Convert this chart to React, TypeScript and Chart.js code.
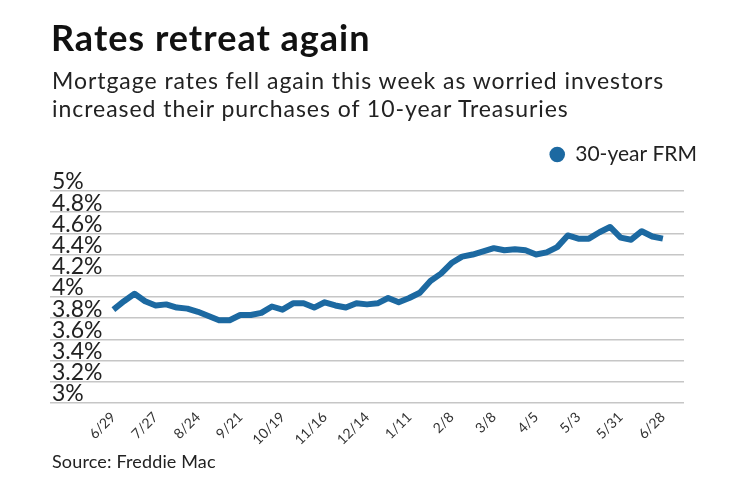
import React, { useEffect, useRef } from 'react';
import { Chart, registerables } from 'chart.js';

Chart.register(...registerables);

// Weekly Freddie Mac 30-year fixed mortgage rate (%)
const weekLabels = [
  '6/29', '7/6', '7/13', '7/20', '7/27', '8/3', '8/10', '8/17', '8/24', '8/31',
  '9/7', '9/14', '9/21', '9/28', '10/5', '10/12', '10/19', '10/26', '11/2', '11/9',
  '11/16', '11/22', '11/30', '12/7', '12/14', '12/21', '12/28', '1/4', '1/11', '1/18',
  '1/25', '2/1', '2/8', '2/15', '2/22', '3/1', '3/8', '3/15', '3/22', '3/29',
  '4/5', '4/12', '4/19', '4/26', '5/3', '5/10', '5/17', '5/24', '5/31', '6/7',
  '6/14', '6/21', '6/28',
];
const frmRates = [
  3.88, 3.96, 4.03, 3.96, 3.92, 3.93, 3.9, 3.89, 3.86, 3.82,
  3.78, 3.78, 3.83, 3.83, 3.85, 3.91, 3.88, 3.94, 3.94, 3.9,
  3.95, 3.92, 3.9, 3.94, 3.93, 3.94, 3.99, 3.95, 3.99, 4.04,
  4.15, 4.22, 4.32, 4.38, 4.4, 4.43, 4.46, 4.44, 4.45, 4.44,
  4.4, 4.42, 4.47, 4.58, 4.55, 4.55, 4.61, 4.66, 4.56, 4.54,
  4.62, 4.57, 4.55,
];
const xTickLabels = ['6/29', '7/27', '8/24', '9/21', '10/19', '11/16', '12/14', '1/11', '2/8', '3/8', '4/5', '5/3', '5/31', '6/28'];
const yTickValues = [3, 3.2, 3.4, 3.6, 3.8, 4, 4.2, 4.4, 4.6, 4.8, 5];
const seriesName = '30-year FRM';
const titleText = 'Rates retreat again';
const subtitleLines = [
  'Mortgage rates fell again this week as worried investors',
  'increased their purchases of 10-year Treasuries',
];
const sourceText = 'Source: Freddie Mac';

const LINE = '#1c69a1';
const FONT = 'Lato, "Open Sans", sans-serif';

export default function App() {
  const ref = useRef<HTMLCanvasElement>(null);

  useEffect(() => {
    document.body.style.margin = '0';
    const chart = new Chart(ref.current!, {
      type: 'line',
      data: {
        datasets: [
          {
            label: seriesName,
            data: frmRates.map((y, i) => ({ x: i, y })),
            borderColor: LINE,
            backgroundColor: LINE,
            borderWidth: 6,
            pointRadius: 0,
            pointHoverRadius: 0,
            tension: 0,
            borderJoinStyle: 'round',
            fill: false,
          },
        ],
      },
      options: {
        responsive: false,
        animation: false,
        events: [],
        layout: { padding: { left: 50, right: 33, top: 134, bottom: 27 } },
        plugins: {
          tooltip: { enabled: false },
          legend: {
            position: 'top',
            align: 'end',
            labels: {
              usePointStyle: true,
              pointStyle: 'circle',
              boxWidth: 15,
              boxHeight: 11,
              padding: 10,
              color: '#222',
              font: { family: FONT, size: 21 },
              generateLabels: (c: any) =>
                Chart.defaults.plugins.legend.labels.generateLabels(c).map((l: any) => ({
                  ...l,
                  lineWidth: 0,
                  fillStyle: LINE,
                  strokeStyle: LINE,
                })),
            },
          },
        },
        scales: {
          x: {
            type: 'linear',
            min: -6,
            max: 54,
            grid: { display: false, drawTicks: false },
            border: { display: false },
            afterBuildTicks: (s: any) => {
              s.ticks = xTickLabels.map((l) => ({ value: weekLabels.indexOf(l) }));
            },
            afterFit: (s: any) => {
              s.height = 52;
            },
            ticks: {
              autoSkip: false,
              maxRotation: 45,
              minRotation: 45,
              padding: 6,
              color: '#333',
              font: { family: FONT, size: 14 },
              callback: (v: any) => weekLabels[v] ?? '',
            },
          },
          y: {
            type: 'linear',
            position: 'left',
            min: 3,
            max: 5.15,
            afterBuildTicks: (s: any) => {
              s.ticks = yTickValues.map((v) => ({ value: v }));
            },
            afterFit: (s: any) => {
              s.width = 0;
            },
            grid: { color: '#c6c6c6', lineWidth: 1.5, drawTicks: false },
            border: { display: false },
            ticks: {
              autoSkip: false,
              mirror: true,
              padding: 2,
              labelOffset: -9,
              color: '#222',
              font: { family: FONT, size: 23 },
              callback: (v: any) => `${v}%`,
            },
          },
          yR: {
            type: 'linear',
            position: 'right',
            display: true,
            grid: { display: false, drawTicks: false },
            border: { display: false },
            ticks: { display: false },
            afterFit: (s: any) => {
              s.width = 23;
            },
          },
        },
      },
    } as any);
    return () => chart.destroy();
  }, []);

  return (
    <div
      style={{
        position: 'fixed',
        left: 0,
        top: 0,
        width: 740,
        height: 482,
        background: '#fff',
        fontFamily: FONT,
      }}
    >
      <canvas ref={ref} width={740} height={482} style={{ position: 'absolute', left: 0, top: 0, display: 'block' }} />
      <div
        style={{
          position: 'absolute',
          left: 51,
          top: 19,
          fontSize: 36,
          lineHeight: '36px',
          letterSpacing: '1px',
          fontWeight: 700,
          color: '#111',
          whiteSpace: 'nowrap',
        }}
      >
        {titleText}
      </div>
      <div
        style={{
          position: 'absolute',
          left: 52,
          top: 66,
          fontSize: 23,
          lineHeight: '28px',
          letterSpacing: '0.95px',
          color: '#222',
          whiteSpace: 'nowrap',
        }}
      >
        {subtitleLines.map((t) => (
          <div key={t}>{t}</div>
        ))}
      </div>
      <div
        style={{
          position: 'absolute',
          left: 52,
          top: 452,
          fontSize: 18,
          lineHeight: '18px',
          letterSpacing: '0.15px',
          color: '#222',
          whiteSpace: 'nowrap',
        }}
      >
        {sourceText}
      </div>
    </div>
  );
}
